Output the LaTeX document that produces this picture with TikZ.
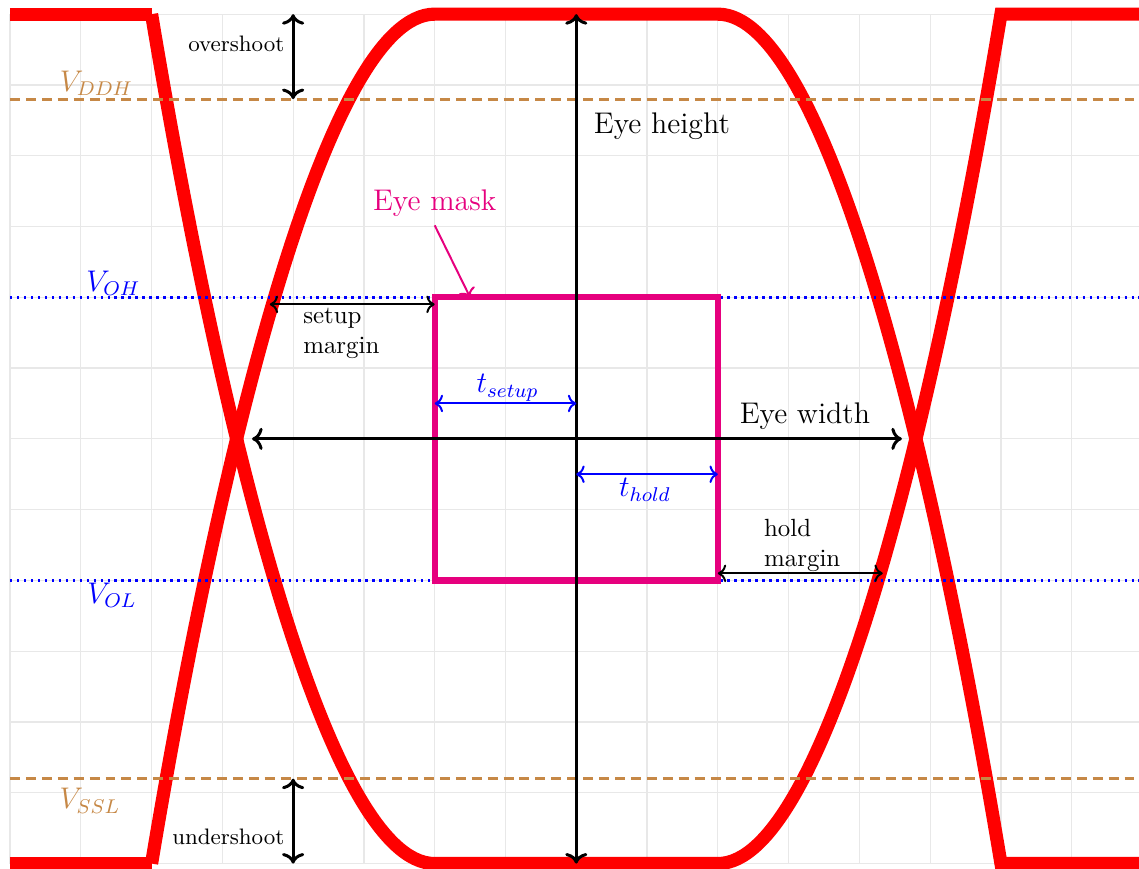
\documentclass[tikz,border=0pt]{standalone}
\usetikzlibrary{arrows.meta}
\definecolor{maskc}{RGB}{230,0,126}
\definecolor{levelc}{RGB}{198,136,70}
\begin{document}
\begin{tikzpicture}[
  gridline/.style={draw=gray!18, line width=0.5pt},
  eyeline/.style={draw=red, line width=5.3pt},
  supplyline/.style={draw=levelc, line width=1.2pt, dash pattern=on 4pt off 2.4pt},
  logicline/.style={draw=blue, line width=1pt, dash pattern=on 1pt off 1.8pt},
  bigarrow/.style={<->, very thick},
  marginarrow/.style={<->, thick},
  tarrow/.style={<->, thick, blue},
  biglabel/.style={font=\large},
  smalllabel/.style={font=\normalsize, align=left},
]
\useasboundingbox (-0.141,-0.07) rectangle (15.95,12.2);

% grid
\draw[gridline] (0,0) grid (16,12);

% eye traces
\draw[eyeline] (0,12) -- (2,12);
\draw[eyeline] (0,0) -- (2,0);
\draw[eyeline] (2,12) .. controls (3,6) and (4.5,0) .. (6,0) -- (10,0)
   .. controls (11.5,0) and (13,6) .. (14,12) -- (16,12);
\draw[eyeline] (2,0) .. controls (3,6) and (4.5,12) .. (6,12) -- (10,12)
   .. controls (11.5,12) and (13,6) .. (14,0) -- (16,0);

% level lines
\coordinate (ddhL) at (0,10.8); \coordinate (ddhR) at (16,10.8);
\coordinate (sslL) at (0,1.2);  \coordinate (sslR) at (16,1.2);
\coordinate (ohL) at (0,8);     \coordinate (ohR) at (16,8);
\coordinate (olL) at (0,4);     \coordinate (olR) at (16,4);
\draw[supplyline] (ddhL) -- (ddhR);
\draw[supplyline] (sslL) -- (sslR);
\draw[logicline] (ohL) -- (ohR);
\draw[logicline] (olL) -- (olR);

\node[biglabel, text=levelc] (vddh) at (1.22,11.02) {$V_{DDH}$};
\node[biglabel, text=levelc] (vssl) at (1.13,0.89) {$V_{SSL}$};
\node[biglabel, text=blue] (voh) at (1.46,8.2) {$V_{OH}$};
\node[biglabel, text=blue] (vol) at (1.44,3.79) {$V_{OL}$};

% eye mask
\node[draw=maskc, line width=2.5pt, minimum width=4cm, minimum height=4cm,
      inner sep=0pt, outer sep=0pt] (mask) at (8,6) {};
\node[biglabel, text=maskc] (masklabel) at (6,9.33) {Eye mask};
\coordinate (maskptr) at (6.5,8);
\draw[->, thick, maskc] (masklabel.south) -- (maskptr);

% eye height / width
\coordinate (ehb) at (8,0); \coordinate (eht) at (8,12);
\draw[bigarrow] (ehb) -- (eht);
\node[biglabel] (ehlabel) at (9.21,10.41) {Eye height};
\coordinate (ewl) at (3.42,6); \coordinate (ewr) at (12.6,6);
\draw[bigarrow] (ewl) -- (ewr);
\node[biglabel] (ewlabel) at (11.23,6.32) {Eye width};

% overshoot / undershoot
\coordinate (ost) at (4,12); \coordinate (osb) at (4,10.8);
\draw[bigarrow] (ost) -- (osb);
\node[font=\small, anchor=east] (oslabel) at (4,11.58) {overshoot};
\coordinate (ust) at (4,1.2); \coordinate (usb) at (4,0);
\draw[bigarrow] (ust) -- (usb);
\node[font=\small, anchor=east] (uslabel) at (4,0.38) {undershoot};

% setup / hold margins
\coordinate (sml) at (3.67,7.9); \coordinate (smr) at (6,7.9);
\draw[marginarrow] (sml) -- (smr);
\node[smalllabel, anchor=west] (smlabel) at (4.02,7.49) {setup\\margin};
\coordinate (hml) at (10,4.1); \coordinate (hmr) at (12.33,4.1);
\draw[marginarrow] (hml) -- (hmr);
\node[smalllabel, anchor=west] (hmlabel) at (10.53,4.5) {hold\\margin};

% setup / hold times
\coordinate (tsl) at (6,6.5); \coordinate (tsr) at (8,6.5);
\draw[tarrow] (tsl) -- (tsr);
\node[biglabel, text=blue] (tslabel) at (7.03,6.72) {$t_{setup}$};
\coordinate (thl) at (8,5.5); \coordinate (thr) at (10,5.5);
\draw[tarrow] (thl) -- (thr);
\node[biglabel, text=blue] (thlabel) at (8.97,5.28) {$t_{hold}$};
\end{tikzpicture}
\end{document}
